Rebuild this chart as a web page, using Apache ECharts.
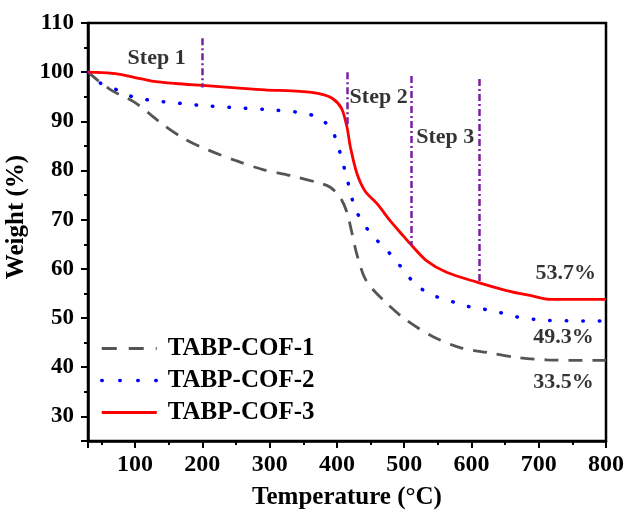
<!DOCTYPE html>
<html>
<head>
<meta charset="utf-8">
<script src="https://cdn.jsdelivr.net/npm/echarts@6/dist/echarts.min.js"></script>
<style>html,body{margin:0;padding:0;background:#fff;}#c{width:627px;height:512px;}</style>
</head>
<body>
<div id="c"></div>
<script>
const seriesNames = ['TABP-COF-1', 'TABP-COF-2', 'TABP-COF-3'];
const cof1 = [[30,100],[45,98.3],[65,96.3],[100,93.8],[140,89.5],[175,86.3],[210,84.1],[250,82],[290,80.2],[330,79],[370,77.6],[390,76.6],[405,74.5],[415,71.5],[422,67.5],[430,62.8],[444,57.5],[474,53],[504,49.5],[543,46.2],[583,44],[623,43],[667,42],[712,41.5],[760,41.4],[800,41.4]];
const cof2 = [[30,100],[48,97.8],[75,96.3],[98,94.9],[122,94.3],[147,93.9],[172,93.6],[197,93.25],[246,92.8],[296,92.4],[345,91.8],[370,90.9],[390,88.8],[400,85.8],[407,82.4],[414,79],[420,75.6],[427,72.3],[439,69.3],[454,66.6],[472,64.1],[489,61.5],[504,58.8],[521,56.4],[543,54.6],[566,53.6],[590,52.5],[615,51.9],[640,51.2],[665,50.3],[690,49.8],[714,49.5],[800,49.4]];
const cof3 = [[30,100],[50,99.9],[75,99.6],[100,98.9],[125,98.2],[160,97.7],[200,97.3],[250,96.8],[293,96.4],[345,96.1],[375,95.6],[394,94.6],[407,92.6],[415,88.8],[420,84.8],[430,79.3],[442,75.8],[460,73.2],[479,69.8],[500,66.5],[511,64.8],[533,61.7],[563,59.3],[608,57.3],[652,55.6],[690,54.5],[717,53.8],[800,53.8]];
const stepTemps = [200, 415, 511, 612];
const stepTops = [106.9, 100, 99.2, 98.6];
const stepBottoms = [96.9, 89, 64.8, 57.3];
const stepLabels = ['Step 1', 'Step 2', 'Step 3'];
const residueLabels = ['53.7%', '49.3%', '33.5%'];

const FONT = 'Liberation Serif';
const chart = echarts.init(document.getElementById('c'));
const txt = {fontFamily: FONT, fontWeight: 'bold', fontSize: 25, color: '#000'};

const stepPos = [[132, 102.8], [462, 94.9], [561, 86.7]];
const resPos = [[740, 59], [737, 46.1], [737, 36.9]];
const annData = stepLabels.map((s, i) => ({value: stepPos[i], name: s}))
  .concat(residueLabels.map((s, i) => ({value: resPos[i], name: s})));

const lineStyles = [
  {color: '#555', width: 2.8, type: [14, 10]},
  {color: '#0000ff', width: 3.5, type: [0.5, 16], cap: 'round'},
  {color: '#ff0000', width: 2.8, type: 'solid'}
];
const legendLineStyles = [
  {color: '#555', width: 2.8, type: [15, 12]},
  {color: '#0000ff', width: 3.5, type: [0.5, 17.5], cap: 'round'},
  {color: '#ff0000', width: 3.2, type: 'solid'}
];

chart.setOption({
  animation: false,
  backgroundColor: '#fff',
  grid: {left: 88, right: 21, top: 23, bottom: 71, show: true, borderColor: '#000', borderWidth: 2.5,
         backgroundColor: 'transparent', containLabel: false, outerBoundsMode: 'none'},
  legend: {
    orient: 'vertical', left: 100, top: 336, padding: 0, itemWidth: 55, itemHeight: 14, itemGap: 7,
    data: seriesNames.map((n, i) => ({name: n, lineStyle: legendLineStyles[i]})),
    itemStyle: {opacity: 0, borderWidth: 0},
    textStyle: Object.assign({}, txt, {padding: [0, 0, 0, 6]})
  },
  xAxis: {
    type: 'value', min: 30, max: 800, splitNumber: 8,
    name: 'Temperature (\u00B0C)', nameLocation: 'middle', nameGap: 44,
    nameTextStyle: txt,
    axisLine: {show: true, onZero: false, lineStyle: {color: '#000', width: 2.5}},
    axisTick: {show: true, length: 7, lineStyle: {color: '#000', width: 2}},
    minorTick: {show: true, splitNumber: 2, length: 4, lineStyle: {color: '#000', width: 2}},
    splitLine: {show: false},
    axisLabel: Object.assign({}, txt, {fontSize: 24, margin: 12, formatter: v => (v % 100 === 0 ? String(v) : '')})
  },
  yAxis: {
    type: 'value', min: 25, max: 110, splitNumber: 9,
    name: 'Weight (%)', nameLocation: 'middle', nameGap: 54,
    nameTextStyle: Object.assign({}, txt, {padding: [0, 0, 0, 30]}),
    axisLine: {show: true, onZero: false, lineStyle: {color: '#000', width: 2.5}},
    axisTick: {show: true, length: 7, lineStyle: {color: '#000', width: 2}},
    minorTick: {show: true, splitNumber: 2, length: 4, lineStyle: {color: '#000', width: 2}},
    splitLine: {show: false},
    axisLabel: Object.assign({}, txt, {fontSize: 23, margin: 14, formatter: v => (v % 10 === 0 ? String(v) : '')})
  },
  series: [
    {name: seriesNames[0], type: 'line', data: cof1, symbol: 'none', smooth: 0.3,
     lineStyle: lineStyles[0], itemStyle: {color: '#555'}},
    {name: seriesNames[1], type: 'line', data: cof2, symbol: 'none', smooth: 0.3,
     lineStyle: lineStyles[1], itemStyle: {color: '#0000ff'}},
    {name: seriesNames[2], type: 'line', data: cof3, symbol: 'none', smooth: 0.3,
     lineStyle: lineStyles[2], itemStyle: {color: '#ff0000'},
     markLine: {
       silent: true, symbol: ['none', 'none'],
       lineStyle: {color: '#7B1FA2', width: 2.5, type: [7, 3, 2, 3]},
       label: {show: false},
       data: stepTemps.map((t, i) => [{coord: [t, stepTops[i]]}, {coord: [t, stepBottoms[i]]}])
     }},
    {type: 'scatter', data: annData, symbolSize: 0, silent: true,
     label: {show: true, position: 'inside', formatter: p => p.name, fontFamily: FONT, fontWeight: 'bold', fontSize: 22, color: '#000'}}
  ]
});
</script>
</body>
</html>
